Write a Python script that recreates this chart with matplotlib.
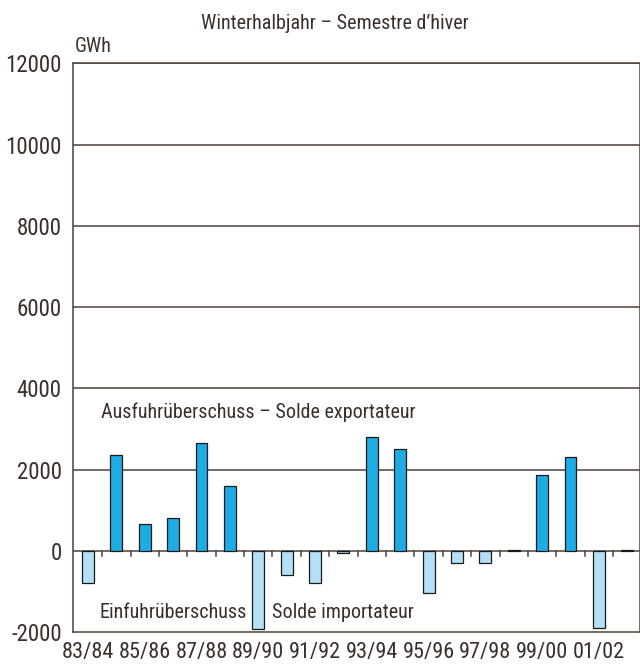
import numpy as np
import matplotlib
matplotlib.use("Agg")
import matplotlib.pyplot as plt

plt.rcParams['font.family'] = ['Roboto Condensed', 'Liberation Sans Narrow', 'DejaVu Sans']

seasons = ["83/84", "84/85", "85/86", "86/87", "87/88", "88/89", "89/90", "90/91",
           "91/92", "92/93", "93/94", "94/95", "95/96", "96/97", "97/98", "98/99",
           "99/00", "00/01", "01/02", "02/03"]
saldo = [-800, 2350, 650, 800, 2650, 1600, -1920, -600, -800, -50,
         2800, 2500, -1050, -300, -300, 20, 1870, 2300, -1890, 20]
yticks = [-2000, 0, 2000, 4000, 6000, 8000, 10000, 12000]

txt = "#3b2f2a"
grid = "#4f4038"
pos_col = "#1fabe4"
neg_col = "#b3e0f6"

fig = plt.figure(figsize=(6.4, 6.65), dpi=100)
ax = fig.add_axes([0.114, 0.0496, 0.886, 0.855])

x = np.arange(len(seasons))
vals = np.array(saldo)
colors = [pos_col if v > 0 else neg_col for v in vals]
ax.bar(x, vals, width=0.42, color=colors, edgecolor="#1a1a1a", linewidth=0.9, zorder=3)

ax.set_ylim(-2000, 12000)
ax.set_xlim(-0.53, 19.45)
ax.set_yticks(yticks)
ax.set_yticklabels([str(t) for t in yticks], fontsize=16.5, color=txt)
ax.tick_params(axis='y', length=0, pad=8)
for t in yticks[1:]:
    ax.axhline(t, color=grid, lw=1.1, zorder=2)

# small ticks below zero line between bars
for b in x[:-1] + 0.5:
    ax.plot([b, b], [0, -120], color=grid, lw=1.1, zorder=2)

ax.set_xticks(x[::2])
ax.set_xticklabels(seasons[::2], fontsize=16, color=txt)
ax.tick_params(axis='x', length=0, pad=7)

for s in ax.spines.values():
    s.set_color(grid)
    s.set_linewidth(1.1)

ax.text(0.45, 3420, "Ausfuhrüberschuss – Solde exportateur", fontsize=14.5, color=txt,
        va='center', ha='left')
ax.text(0.42, -1510, "Einfuhrüberschuss", fontsize=14.5, color=txt, va='center', ha='left')
ax.text(6.5, -1510, "Solde importateur", fontsize=14.5, color=txt, va='center', ha='left')

fig.text(0.117, 0.930, "GWh", fontsize=14.5, color=txt, ha='left', va='center')
fig.text(0.524, 0.964, "Winterhalbjahr – Semestre d’hiver", fontsize=14.5, color=txt,
         ha='center', va='center')

fig.savefig("out.png", dpi=100)
